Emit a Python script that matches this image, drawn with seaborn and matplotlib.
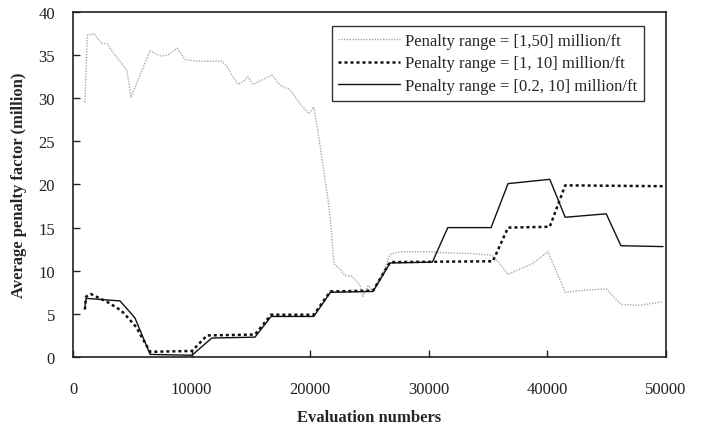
import matplotlib
matplotlib.use("Agg")
import matplotlib.pyplot as plt
import seaborn as sns
import pandas as pd

# ---- data ----
x_a = [1000, 1200, 1770, 2360, 2900, 3370, 4000, 4550, 4890, 5600, 6500, 7340, 8000, 8770,
       9440, 10370, 12560, 12900, 13900, 14400, 14750, 15170, 16780, 17450, 18300, 19300,
       19900, 20300, 20650, 21500, 21700, 22000, 22500, 22930, 23500, 24200, 24450, 24900,
       25300, 26150, 26730, 27570, 30260, 30900, 33470, 35300, 36000, 36680, 37700, 38700,
       40050, 41500, 42750, 44960, 46200, 47800, 49750]
y_a = [29.5, 37.3, 37.5, 36.4, 36.3, 35.3, 34.2, 33.2, 30.1, 32.5, 35.5, 34.9, 35.0, 35.8,
       34.5, 34.3, 34.3, 33.8, 31.6, 32.0, 32.5, 31.6, 32.7, 31.5, 31.0, 29.1,
       28.2, 29.0, 26.1, 18.3, 16.0, 10.8, 10.2, 9.4, 9.4, 8.3, 7.0, 8.3,
       7.6, 9.8, 11.9, 12.2, 12.2, 12.1, 12.0, 11.8, 10.8, 9.6, 10.2, 10.8,
       12.2, 7.5, 7.7, 7.9, 6.1, 6.0, 6.4]

x_b = [1000, 1100, 1500, 2870, 4050, 4470, 5310, 6500, 10030, 11300, 15340, 16700, 20300,
       21700, 25300, 26730, 35400, 36680, 40200, 41500, 49750]
y_b = [5.5, 7.0, 7.3, 6.4, 5.4, 4.8, 3.5, 0.6, 0.7, 2.5, 2.6, 4.9, 4.9,
       7.6, 7.7, 11.0, 11.1, 15.0, 15.1, 19.9, 19.8]

x_c = [1000, 1100, 3960, 4800, 5230, 6500, 10030, 11700, 15340, 16700, 20300, 21700, 25300,
       26730, 30300, 31600, 35250, 36680, 40200, 41500, 44960, 46200, 49750]
y_c = [5.8, 6.8, 6.5, 5.2, 4.5, 0.3, 0.2, 2.2, 2.3, 4.7, 4.7, 7.5, 7.6,
       10.9, 11.0, 15.0, 15.0, 20.1, 20.6, 16.2, 16.6, 12.9, 12.8]

labels = ["Penalty range = [1,50] million/ft",
          "Penalty range = [1, 10] million/ft",
          "Penalty range = [0.2, 10] million/ft"]
x_ticks = [0, 10000, 20000, 30000, 40000, 50000]
y_ticks = [0, 5, 10, 15, 20, 25, 30, 35, 40]

sns.set_style("white")
plt.rcParams['font.family'] = ['Liberation Serif', 'DejaVu Serif']

fig = plt.figure(figsize=(7.07, 4.27), dpi=100)
ax = fig.add_axes([0.1033, 0.1616, 0.8387, 0.808])

df_a = pd.DataFrame({"x": x_a, "y": y_a})
df_b = pd.DataFrame({"x": x_b, "y": y_b})
df_c = pd.DataFrame({"x": x_c, "y": y_c})

sns.lineplot(data=df_a, x="x", y="y", ax=ax, estimator=None, sort=False,
             color="#a8a8a8", lw=1.0, linestyle=(0, (1, 1)), label=labels[0])
sns.lineplot(data=df_b, x="x", y="y", ax=ax, estimator=None, sort=False,
             color="#111111", lw=1.8, linestyle=(0, (1.2, 1.2)), label=labels[1])
sns.lineplot(data=df_c, x="x", y="y", ax=ax, estimator=None, sort=False,
             color="#111111", lw=1.0, linestyle="-", label=labels[2])

ax.set_xlim(0, 50000)
ax.set_ylim(0, 40)
ax.set_xticks(x_ticks)
ax.set_yticks(y_ticks)
ax.set_xticklabels([str(t) for t in x_ticks])
ax.set_yticklabels([str(t) for t in y_ticks])
ax.tick_params(axis="both", direction="in", length=5, width=1, colors="#222222",
               labelsize=12, labelcolor="#222222", bottom=True, left=True, top=False, right=False)
ax.tick_params(axis="x", pad=17)
ax.tick_params(axis="y", pad=13)
for s in ax.spines.values():
    s.set_color("#222222")
    s.set_linewidth(1.2)

ax.set_xlabel("Evaluation numbers", fontsize=12, fontweight="bold", labelpad=9)
ax.set_ylabel("Average penalty factor (million)", fontsize=12, fontweight="bold", labelpad=8)

leg = ax.legend(loc="upper right", bbox_to_anchor=(0.963, 0.959), fontsize=12,
                frameon=True, fancybox=False, edgecolor="#333333", framealpha=1,
                handlelength=3.7, handletextpad=0.3, borderpad=0.4, labelspacing=0.4,
                borderaxespad=0)
leg.get_frame().set_linewidth(1.0)

fig.savefig("out.png", dpi=100)
